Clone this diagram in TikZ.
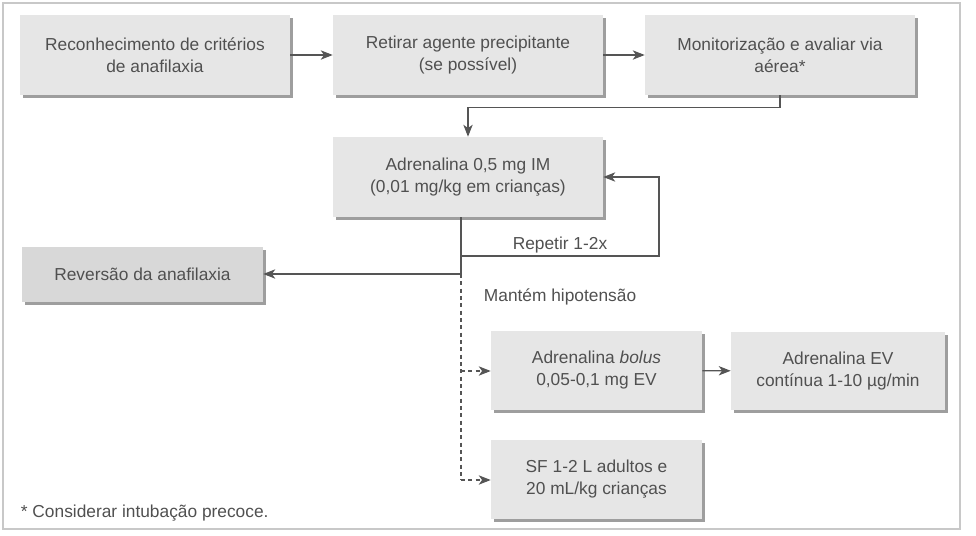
\documentclass[tikz,border=0pt]{standalone}
\usepackage{fontspec}
\setmainfont{Liberation Sans}
\usetikzlibrary{arrows.meta,shadows}
\definecolor{boxgray}{HTML}{E6E6E6}
\definecolor{revgray}{HTML}{D8D8D8}
\definecolor{txt}{HTML}{505050}
\definecolor{ln}{HTML}{555555}
\definecolor{framegray}{HTML}{C8C8C8}

\begin{document}
\begin{tikzpicture}[x=0.75pt,y=-0.75pt,>={Stealth[length=9pt,width=7pt,inset=2.5pt]},
  font=\fontsize{13}{16.5}\selectfont,
  box/.style={fill=boxgray,text=txt,align=center,inner sep=0pt,
    minimum width=202.5pt,minimum height=60pt,
    drop shadow={shadow xshift=2.2pt,shadow yshift=-2.2pt,fill=black!38,opacity=1}},
  link/.style={->,draw=ln,line width=0.9pt},
  dlink/.style={link,dash pattern=on 3pt off 2.5pt},
  lbl/.style={text=txt,inner sep=2pt}]
\useasboundingbox (0,0) rectangle (976,536);
\draw[framegray,line width=1.2pt] (3,3) rectangle (960,529);

% top row
\node[box] (recon) at (155,55) {Reconhecimento de critérios\\de anafilaxia};
\node[box] (retirar) at (468,55) {Retirar agente precipitante\\(se possível)};
\node[box] (monit) at (780,55) {Monitorização e avaliar via\\aérea*};
% middle
\node[box] (adrIM) at (468,177) {Adrenalina 0,5 mg IM\\(0,01 mg/kg em crianças)};
\node[box,fill=revgray,minimum width=180.75pt,minimum height=41.25pt] (revers) at (142.5,274.5) {Reversão da anafilaxia};
% bottom
\node[box,minimum width=158.25pt,minimum height=59.25pt] (bolus) at (596.5,370.5) {Adrenalina \textit{bolus}\\0,05-0,1 mg EV};
\node[box,minimum width=160.5pt,minimum height=58.5pt] (cont) at (838,371) {Adrenalina EV\\contínua 1-10 µg/min};
\node[box,minimum width=158.25pt,minimum height=59.25pt] (sf) at (596.5,479.5) {SF 1-2 L adultos e\\20 mL/kg crianças};

\node[lbl,anchor=west] (hipo) at (481,297) {Mantém hipotensão};
\node[lbl,anchor=west] (nota) at (18,513) {* Considerar intubação precoce.};

\coordinate (j1) at (461,256);
\coordinate (j2) at (461,274);

\draw[link] (recon) -- (retirar);
\draw[link] (retirar) -- (monit);
\draw[link] (monit.south) -- ++(0,12) -| (adrIM.north);
\draw[link,-] (adrIM.south -| j1) -- (j2);
\draw[link] (j1) -- node[lbl,above]{Repetir 1-2x} (659,256) |- (adrIM.east);
\draw[link] (j2) -- (revers.east |- j2);
\draw[dlink,-] (j2) -- (461,480);
\draw[dlink] (461,371) -- (bolus.west |- 0,371);
\draw[dlink] (461,480) -- (sf.west |- 0,480);
\draw[link] (bolus) -- (cont);
\end{tikzpicture}
\end{document}
